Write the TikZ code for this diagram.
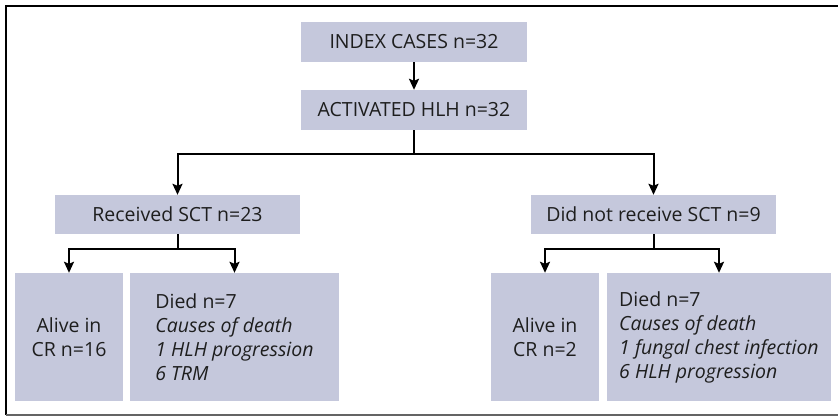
\documentclass[tikz,border=0pt]{standalone}
\usepackage{fontspec}
\setmainfont{Open Sans}
\usetikzlibrary{arrows.meta}
\definecolor{boxfill}{RGB}{197,200,220}
\definecolor{txt}{RGB}{30,30,30}
\definecolor{framegray}{RGB}{100,100,100}
\begin{document}
\begin{tikzpicture}[x=1pt,y=-1pt,
  flowbox/.style={fill=boxfill,draw=none,inner sep=0pt,text=txt,
    font=\fontsize{19.5}{24}\selectfont,align=center},
  flowarrow/.style={line width=2pt,-{Stealth[length=11pt,width=10pt,inset=2pt]}},
  flowline/.style={line width=2pt}]
\useasboundingbox (0,0) rectangle (838,416);
\fill[white] (0,0) rectangle (838,416);
% frame
\draw[line width=2.5pt,black] (6,415) -- (6,6) -- (838,6);
\draw[line width=1.5pt,framegray] (6,415) -- (838,415);
% nodes
\node[flowbox,minimum width=226,minimum height=40] (idx) at (414,42) {INDEX CASES n=32};
\node[flowbox,minimum width=226,minimum height=40] (act) at (414,110) {ACTIVATED HLH n=32};
\node[flowbox,minimum width=245,minimum height=39] (rec) at (177.5,214.5) {Received SCT n=23};
\node[flowbox,minimum width=245,minimum height=39] (dnr) at (653.5,214.5) {Did not receive SCT n=9};
\node[flowbox,minimum width=108,minimum height=128] (al1) at (69,337) {Alive in\\CR n=16};
\node[flowbox,minimum width=209,minimum height=128,align=left] (di1) at (234.5,337) {Died n=7\\\itshape Causes of death\\\itshape 1 HLH progression\\\itshape 6 TRM};
\node[flowbox,minimum width=108,minimum height=128] (al2) at (545,337) {Alive in\\CR n=2};
\node[flowbox,minimum width=224,minimum height=128,align=left] (di2) at (719,337) {Died n=7\\\itshape Causes of death\\\itshape 1 fungal chest infection\\\itshape 6 HLH progression};
% coordinates
\coordinate (j1) at (414,154);
\coordinate (j2) at (177.5,249);
\coordinate (j3) at (653.5,249);
% connectors
\draw[flowarrow] (idx.south) -- (act.north);
\draw[flowline] (act.south) -- (j1);
\draw[flowarrow] (j1) -| (rec.north);
\draw[flowarrow] (j1) -| (dnr.north);
\draw[flowline] (rec.south) -- (j2);
\draw[flowarrow] (j2) -| (al1.north);
\draw[flowarrow] (j2) -| (di1.north);
\draw[flowline] (dnr.south) -- (j3);
\draw[flowarrow] (j3) -| (al2.north);
\draw[flowarrow] (j3) -| (di2.north);
\end{tikzpicture}
\end{document}
